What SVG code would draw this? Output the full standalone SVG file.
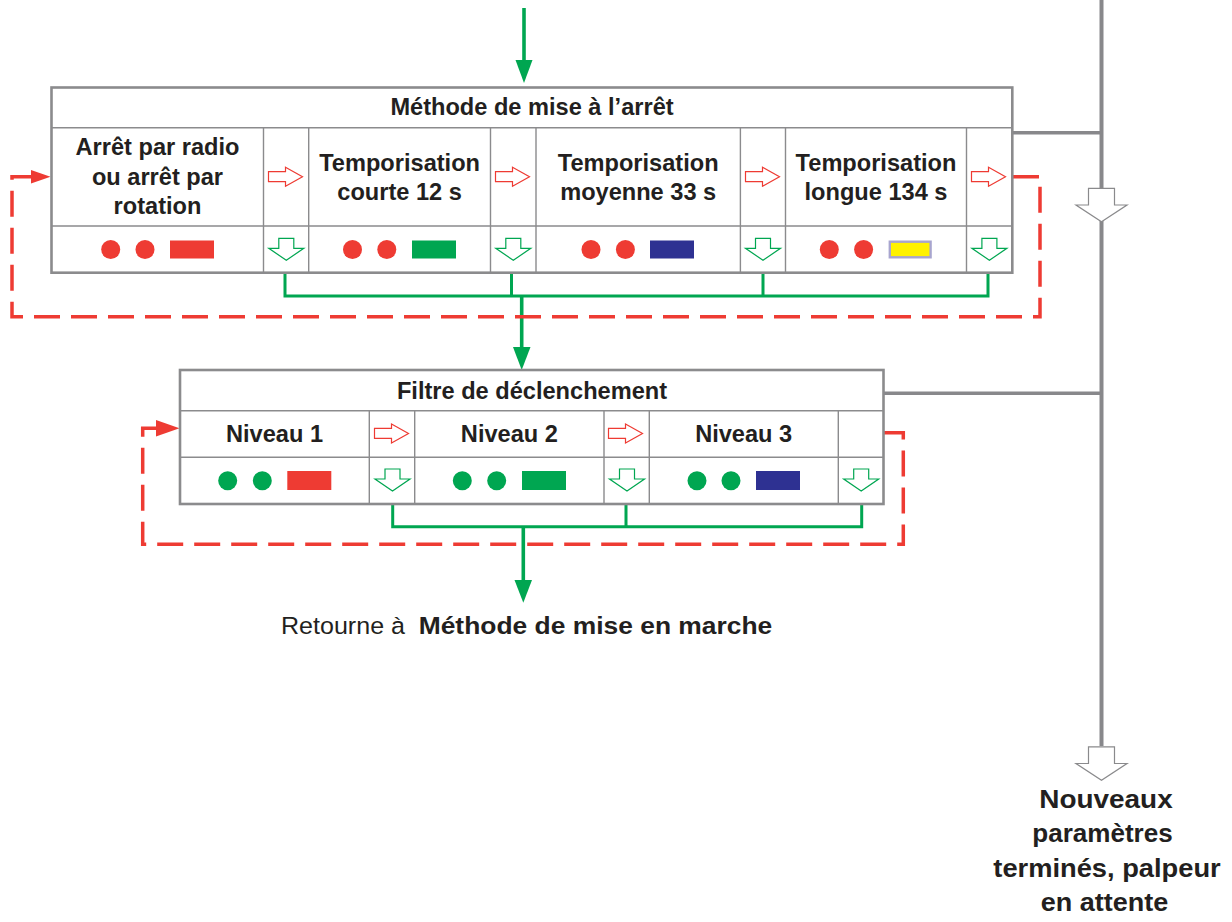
<svg xmlns="http://www.w3.org/2000/svg" width="1232" height="922" viewBox="0 0 1232 922">
<style>
.t{font-family:"Liberation Sans",Arial,Helvetica,sans-serif;font-weight:bold;font-size:23.6px;fill:#231f20;text-anchor:middle}
.box{fill:#fff;stroke:#8b8b8d;stroke-width:2.6}
.in{stroke:#8b8b8d;stroke-width:1.4;fill:none}
.gr{stroke:#00a651;stroke-width:3;fill:none}
.grt{stroke:#00a651;stroke-width:3.6;fill:none}
.rd{stroke:#ee3b33;stroke-width:3.5;fill:none;stroke-dasharray:26 11}
.gy{stroke:#88888b;fill:none}
.r{fill:#ee3b33}.g{fill:#00a651}.b{fill:#2e3192}
</style>
<defs>
<path id="ra" d="M-17,-5 H0 V-9.5 L17,0 L0,9.5 V5 H-17 Z" fill="#fff" stroke="#ee3b33" stroke-width="1.2"/>
<path id="ga" d="M-7.5,-11 H7.5 V-1 H17.5 L0,11 L-17.5,-1 H-7.5 Z" fill="#fff" stroke="#00a651" stroke-width="1.2"/>
<path id="ya" d="M-13,-16.7 H13 V0 H25.5 L0,16.7 L-25.5,0 H-13 Z" fill="#fff" stroke="#8a8a8c" stroke-width="1.2"/>
</defs>

<g id="connectors">
<line class="gy" x1="1101.5" y1="0" x2="1101.5" y2="746" stroke-width="4"/>
<line class="gy" x1="1012" y1="132.7" x2="1101.5" y2="132.7" stroke-width="3.5"/>
<line class="gy" x1="883" y1="393.3" x2="1101.5" y2="393.3" stroke-width="3.5"/>
<use href="#ya" x="1101.5" y="205"/>
<use href="#ya" x="1101.5" y="763.5"/>
<line class="grt" x1="524" y1="8" x2="524" y2="62"/>
<polygon class="g" points="515.5,60 532.5,60 524,83"/>
<path class="gr" d="M285,273 V296 H988 V273 M511.5,273 V296 M763,273 V296"/>
<line class="grt" x1="521.7" y1="296" x2="521.7" y2="349"/>
<polygon class="g" points="513,347 530.5,347 521.7,370"/>
<path class="gr" d="M392.7,504 V526.7 H861.7 V504 M626,504 V526.7"/>
<line class="grt" x1="523.3" y1="526.7" x2="523.3" y2="582"/>
<polygon class="g" points="514.5,580 532,580 523.3,602.7"/>
<path class="rd" d="M1013,176.7 H1040 V316.7 H12 V176.7 H33"/>
<polygon class="r" points="31,170 50.5,176.7 31,183.5"/>
<path class="rd" d="M884,432.7 H903.3 V544.3 H142.7 V428.3 H158"/>
<polygon class="r" points="156,420 179.5,428.3 156,436.5"/>
</g>

<g id="box-arret">
<rect class="box" x="51.5" y="87.5" width="960.8" height="185.2"/>
<path class="in" d="M51.5,127.7 H1012.3 M51.5,226 H1012.3 M263.5,127.7 V272.7 M308.7,127.7 V272.7 M490.5,127.7 V272.7 M536,127.7 V272.7 M740.4,127.7 V272.7 M785.5,127.7 V272.7 M966.5,127.7 V272.7"/>
<text class="t" x="532" y="115">Méthode de mise à l’arrêt</text>
<text class="t" x="157.5" y="155">Arrêt par radio</text>
<text class="t" x="157.5" y="185">ou arrêt par</text>
<text class="t" x="157.5" y="214">rotation</text>
<text class="t" x="399.6" y="170.7">Temporisation</text>
<text class="t" x="399.6" y="200">courte 12 s</text>
<text class="t" x="638.2" y="170.7">Temporisation</text>
<text class="t" x="638.2" y="200">moyenne 33 s</text>
<text class="t" x="876" y="170.7">Temporisation</text>
<text class="t" x="876" y="200">longue 134 s</text>
<use href="#ra" x="285.5" y="176.7"/>
<use href="#ra" x="512.5" y="176.7"/>
<use href="#ra" x="762.5" y="176.7"/>
<use href="#ra" x="988.5" y="176.7"/>
<use href="#ga" x="286.3" y="249.3"/>
<use href="#ga" x="513.3" y="249.3"/>
<use href="#ga" x="763" y="249.3"/>
<use href="#ga" x="989.4" y="249.3"/>
<circle class="r" cx="110.7" cy="249.5" r="9.5"/><circle class="r" cx="145" cy="249.5" r="9.5"/><rect class="r" x="170" y="240.5" width="44" height="18"/>
<circle class="r" cx="352.5" cy="249.5" r="9.5"/><circle class="r" cx="386.8" cy="249.5" r="9.5"/><rect class="g" x="412" y="240.5" width="44" height="18"/>
<circle class="r" cx="591" cy="249.5" r="9.5"/><circle class="r" cx="625.4" cy="249.5" r="9.5"/><rect class="b" x="650" y="240.5" width="44" height="18"/>
<circle class="r" cx="829.3" cy="249.5" r="9.5"/><circle class="r" cx="863.6" cy="249.5" r="9.5"/><rect x="889.8" y="241.7" width="40.8" height="15.6" fill="#fff200" stroke="#a8a5cf" stroke-width="2.4"/>
</g>

<g id="box-filtre">
<rect class="box" x="180" y="370" width="703.5" height="134"/>
<path class="in" d="M180,410.7 H883.5 M180,457.3 H883.5 M369.3,410.7 V504 M414.7,410.7 V504 M604,410.7 V504 M649.3,410.7 V504 M838.3,410.7 V504"/>
<text class="t" x="532" y="399.3">Filtre de déclenchement</text>
<text class="t" x="274.5" y="442.3">Niveau 1</text>
<text class="t" x="509.4" y="442.3">Niveau 2</text>
<text class="t" x="743.7" y="442.3">Niveau 3</text>
<use href="#ra" x="391.5" y="433.4"/>
<use href="#ra" x="625.5" y="433.4"/>
<use href="#ga" x="392.5" y="480"/>
<use href="#ga" x="627" y="480"/>
<use href="#ga" x="861.2" y="480"/>
<circle class="g" cx="227.7" cy="480.7" r="9.5"/><circle class="g" cx="262.3" cy="480.7" r="9.5"/><rect class="r" x="287.3" y="471" width="44" height="19"/>
<circle class="g" cx="462.3" cy="480.7" r="9.5"/><circle class="g" cx="496.7" cy="480.7" r="9.5"/><rect class="g" x="522" y="471" width="44" height="19"/>
<circle class="g" cx="697" cy="480.7" r="9.5"/><circle class="g" cx="731" cy="480.7" r="9.5"/><rect class="b" x="756" y="471" width="44" height="19"/>
</g>

<g id="retour">
<text x="281" y="634" textLength="124" lengthAdjust="spacingAndGlyphs" style="font-family:'Liberation Sans',Arial,sans-serif;font-size:24.5px;fill:#231f20">Retourne à</text>
<text x="418.7" y="634" textLength="353.6" lengthAdjust="spacingAndGlyphs" style="font-family:'Liberation Sans',Arial,sans-serif;font-size:24.5px;font-weight:bold;fill:#231f20">Méthode de mise en marche</text>
</g>

<g id="fin" style="font-family:'Liberation Sans',Arial,sans-serif;font-size:25.8px;font-weight:bold;fill:#231f20">
<text x="1039.3" y="808.3" textLength="133.4" lengthAdjust="spacingAndGlyphs">Nouveaux</text>
<text x="1032.3" y="842" textLength="140.4" lengthAdjust="spacingAndGlyphs">paramètres</text>
<text x="993.3" y="876.5" textLength="227.4" lengthAdjust="spacingAndGlyphs">terminés, palpeur</text>
<text x="1040.7" y="911" textLength="127.6" lengthAdjust="spacingAndGlyphs">en attente</text>
</g>
</svg>
